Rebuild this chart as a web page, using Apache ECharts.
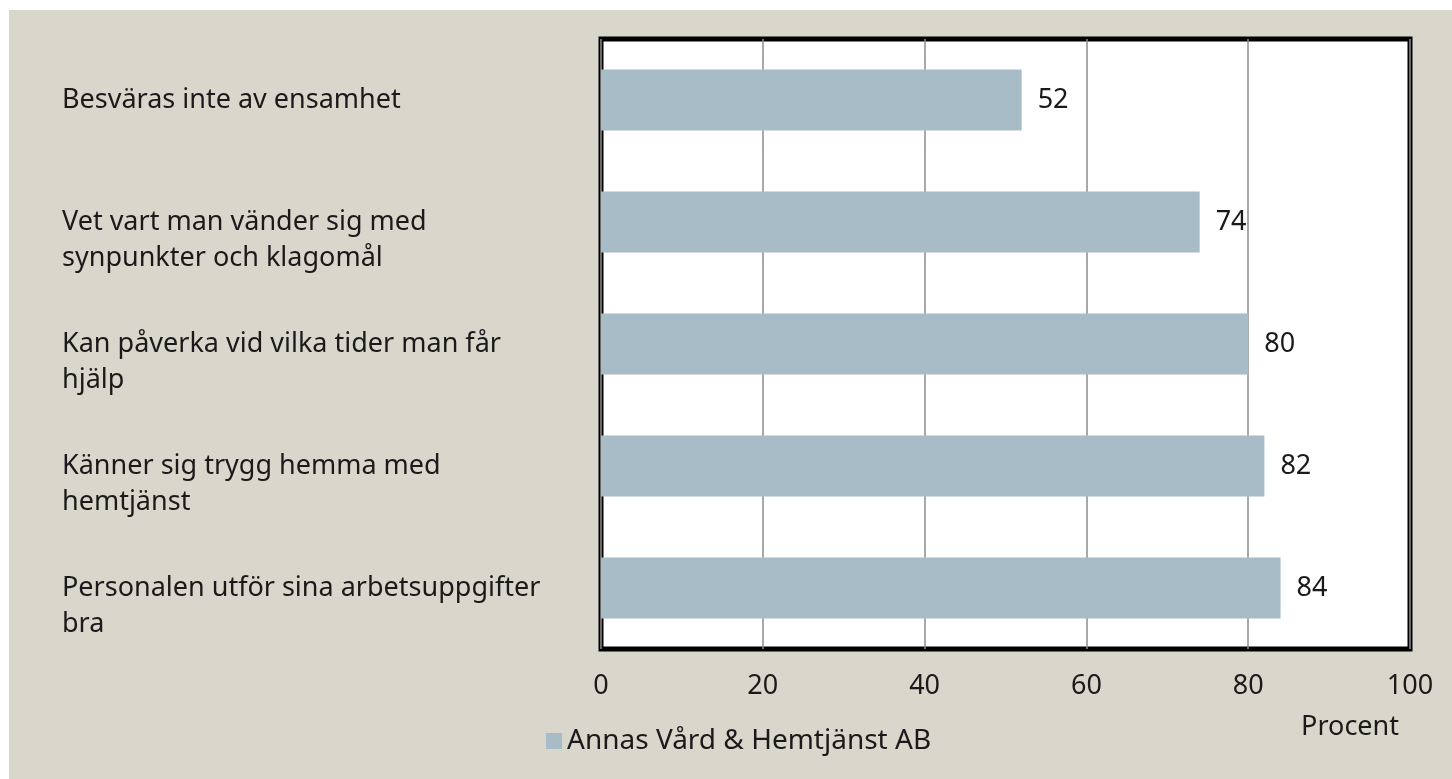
<!DOCTYPE html>
<html>
<head>
<meta charset="utf-8">
<script src="https://cdn.jsdelivr.net/npm/echarts@6/dist/echarts.min.js"></script>
<style>
  html, body { margin: 0; padding: 0; background: #fff; }
  #chart { position: absolute; left: 9px; top: 10px; width: 1443px; height: 769px; }
</style>
</head>
<body>
<div id="chart"></div>
<script>
var categories = [
    'Besväras inte av ensamhet',
    'Vet vart man vänder sig med\nsynpunkter och klagomål',
    'Kan påverka vid vilka tider man får\nhjälp',
    'Känner sig trygg hemma med\nhemtjänst',
    'Personalen utför sina arbetsuppgifter\nbra'
];
var values = [52, 74, 80, 82, 84];
var seriesName = 'Annas Vård & Hemtjänst AB';
var axisName = 'Procent';

var font = 'Noto Sans';
var myChart = echarts.init(document.getElementById('chart'));
var option = {
    backgroundColor: '#d9d7cb',
    textStyle: { fontFamily: font },
    animation: false,
    grid: {
        left: 592, top: 29, right: 42, bottom: 130,
        show: true, backgroundColor: '#fff', borderColor: '#000', borderWidth: 5
    },
    legend: {
        left: 537, top: 717, padding: 0,
        icon: 'rect', itemWidth: 16, itemHeight: 16, itemGap: 7,
        textStyle: { fontSize: 28, color: '#1a1a1a', fontFamily: font },
        data: [seriesName]
    },
    xAxis: {
        type: 'value',
        min: 0, max: 100, interval: 20,
        name: axisName,
        nameLocation: 'end',
        nameGap: -11,
        nameTextStyle: { fontSize: 27, color: '#1a1a1a', align: 'right', verticalAlign: 'top', padding: [65, 0, 0, 0] },
        axisLine: { show: false },
        axisTick: { show: false },
        axisLabel: { fontSize: 27, color: '#1a1a1a', margin: 24 },
        splitLine: { show: true, lineStyle: { color: '#8c8c8c', width: 1.5 } }
    },
    yAxis: {
        type: 'category',
        inverse: true,
        data: categories,
        axisLine: { show: false },
        axisTick: { show: false },
        axisLabel: {
            fontSize: 27, color: '#1a1a1a', align: 'left', margin: 539, lineHeight: 36,
            padding: [8, 0, 0, 0],
            formatter: function (v) { return v.indexOf('\n') >= 0 ? '\n' + v : v; }
        }
    },
    series: [{
        name: seriesName,
        type: 'bar',
        barWidth: '50%',
        itemStyle: { color: '#a7bcc7' },
        label: { show: true, position: 'right', distance: 16, fontSize: 27, color: '#1a1a1a', padding: [6, 0, 0, 0] },
        data: values
    }]
};
myChart.setOption(option);
</script>
</body>
</html>
